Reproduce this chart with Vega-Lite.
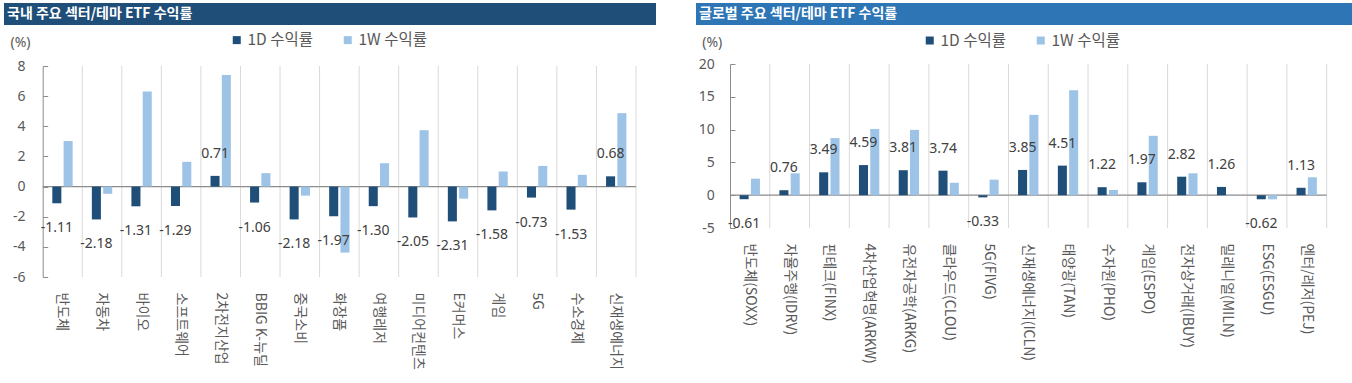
{
  "$schema": "https://vega.github.io/schema/vega-lite/v6.json",
  "padding": {"left": 4, "top": 3, "right": 0, "bottom": 0},
  "background": "white",
  "config": {
    "view": {"stroke": null},
    "font": "Noto Sans CJK KR",
    "axis": {"labelOverlap": false},
    "locale": {"number": {"decimal": ".", "thousands": ",", "grouping": [3], "currency": ["", ""], "minus": "-"}}
  },
  "datasets": {
    "kr": [
      {"cat": "반도체", "series": "1D 수익률", "value": -1.11}, {"cat": "반도체", "series": "1W 수익률", "value": 3.03},
      {"cat": "자동차", "series": "1D 수익률", "value": -2.18}, {"cat": "자동차", "series": "1W 수익률", "value": -0.48},
      {"cat": "바이오", "series": "1D 수익률", "value": -1.31}, {"cat": "바이오", "series": "1W 수익률", "value": 6.3},
      {"cat": "소프트웨어", "series": "1D 수익률", "value": -1.29}, {"cat": "소프트웨어", "series": "1W 수익률", "value": 1.64},
      {"cat": "2차전지산업", "series": "1D 수익률", "value": 0.71}, {"cat": "2차전지산업", "series": "1W 수익률", "value": 7.4},
      {"cat": "BBIG K-뉴딜", "series": "1D 수익률", "value": -1.06}, {"cat": "BBIG K-뉴딜", "series": "1W 수익률", "value": 0.89},
      {"cat": "중국소비", "series": "1D 수익률", "value": -2.18}, {"cat": "중국소비", "series": "1W 수익률", "value": -0.6},
      {"cat": "화장품", "series": "1D 수익률", "value": -1.97}, {"cat": "화장품", "series": "1W 수익률", "value": -4.38},
      {"cat": "여행레저", "series": "1D 수익률", "value": -1.3}, {"cat": "여행레저", "series": "1W 수익률", "value": 1.55},
      {"cat": "미디어컨텐츠", "series": "1D 수익률", "value": -2.05}, {"cat": "미디어컨텐츠", "series": "1W 수익률", "value": 3.74},
      {"cat": "E커머스", "series": "1D 수익률", "value": -2.31}, {"cat": "E커머스", "series": "1W 수익률", "value": -0.8},
      {"cat": "게임", "series": "1D 수익률", "value": -1.58}, {"cat": "게임", "series": "1W 수익률", "value": 1.0},
      {"cat": "5G", "series": "1D 수익률", "value": -0.73}, {"cat": "5G", "series": "1W 수익률", "value": 1.37},
      {"cat": "수소경제", "series": "1D 수익률", "value": -1.53}, {"cat": "수소경제", "series": "1W 수익률", "value": 0.78},
      {"cat": "신재생에너지", "series": "1D 수익률", "value": 0.68}, {"cat": "신재생에너지", "series": "1W 수익률", "value": 4.87}
    ],
    "gl": [
      {"cat": "반도체(SOXX)", "series": "1D 수익률", "value": -0.61}, {"cat": "반도체(SOXX)", "series": "1W 수익률", "value": 2.52},
      {"cat": "자율주행(IDRV)", "series": "1D 수익률", "value": 0.76}, {"cat": "자율주행(IDRV)", "series": "1W 수익률", "value": 3.34},
      {"cat": "핀테크(FINX)", "series": "1D 수익률", "value": 3.49}, {"cat": "핀테크(FINX)", "series": "1W 수익률", "value": 8.7},
      {"cat": "4차산업혁명(ARKW)", "series": "1D 수익률", "value": 4.59}, {"cat": "4차산업혁명(ARKW)", "series": "1W 수익률", "value": 10.1},
      {"cat": "유전자공학(ARKG)", "series": "1D 수익률", "value": 3.81}, {"cat": "유전자공학(ARKG)", "series": "1W 수익률", "value": 9.96},
      {"cat": "클라우드(CLOU)", "series": "1D 수익률", "value": 3.74}, {"cat": "클라우드(CLOU)", "series": "1W 수익률", "value": 1.9},
      {"cat": "5G(FIVG)", "series": "1D 수익률", "value": -0.33}, {"cat": "5G(FIVG)", "series": "1W 수익률", "value": 2.37},
      {"cat": "신재생에너지(ICLN)", "series": "1D 수익률", "value": 3.85}, {"cat": "신재생에너지(ICLN)", "series": "1W 수익률", "value": 12.25},
      {"cat": "태양광(TAN)", "series": "1D 수익률", "value": 4.51}, {"cat": "태양광(TAN)", "series": "1W 수익률", "value": 16.0},
      {"cat": "수자원(PHO)", "series": "1D 수익률", "value": 1.22}, {"cat": "수자원(PHO)", "series": "1W 수익률", "value": 0.8},
      {"cat": "게임(ESPO)", "series": "1D 수익률", "value": 1.97}, {"cat": "게임(ESPO)", "series": "1W 수익률", "value": 9.05},
      {"cat": "전자상거래(IBUY)", "series": "1D 수익률", "value": 2.82}, {"cat": "전자상거래(IBUY)", "series": "1W 수익률", "value": 3.34},
      {"cat": "밀레니얼(MILN)", "series": "1D 수익률", "value": 1.26}, {"cat": "밀레니얼(MILN)", "series": "1W 수익률", "value": 0.08},
      {"cat": "ESG(ESGU)", "series": "1D 수익률", "value": -0.62}, {"cat": "ESG(ESGU)", "series": "1W 수익률", "value": -0.63},
      {"cat": "엔터/레저(PEJ)", "series": "1D 수익률", "value": 1.13}, {"cat": "엔터/레저(PEJ)", "series": "1W 수익률", "value": 2.73}
    ]
  },
  "spacing": 40,
  "resolve": {"scale": {"color": "independent"}, "legend": {"color": "independent"}},
  "hconcat": [
    {
      "spacing": 7,
      "resolve": {"scale": {"color": "independent"}, "legend": {"color": "independent"}},
      "vconcat": [
        {
          "width": 652, "height": 22,
          "view": {"fill": "#1f4e79", "stroke": null},
          "data": {"values": [{"t": "국내 주요 섹터/테마 ETF 수익률"}]},
          "mark": {"type": "text", "align": "left", "baseline": "middle", "x": 3, "color": "white", "fontWeight": "bold", "fontSize": 14},
          "encoding": {"text": {"field": "t"}}
        },
        {
          "width": 652, "height": 211,
          "data": {"name": "kr"},
          "layer": [
            {
              "transform": [{"filter": "datum.series === '1D 수익률'"}],
              "mark": {"type": "rule", "color": "#d9d9d9", "strokeWidth": 1},
              "encoding": {
                "x": {"field": "cat", "type": "nominal", "sort": null, "bandPosition": 1,
                  "scale": {"range": [38.7, 632], "paddingInner": 0, "paddingOuter": 0},
                  "axis": {"title": null, "labelAngle": 90, "labelAlign": "left", "labelBaseline": "middle", "labelPadding": 15, "ticks": false, "domain": false, "labelFontSize": 14, "labelColor": "#595959", "labelLimit": 300}}
              }
            },
            {
              "transform": [{"filter": "datum.series === '1D 수익률'"}],
              "mark": {"type": "bar", "fillOpacity": 0, "stroke": "#8c8c8c", "strokeWidth": 1.3},
              "encoding": {
                "x": {"field": "cat", "type": "nominal", "sort": null},
                "y": {"datum": 0},
                "y2": {"datum": 0}
              }
            },
            {
              "mark": {"type": "bar"},
              "encoding": {
                "x": {"field": "cat", "type": "nominal", "sort": null},
                "xOffset": {"field": "series", "type": "nominal", "scale": {"domain": ["1D 수익률", "1W 수익률"], "paddingInner": 0.2, "paddingOuter": 0.85}},
                "y": {"field": "value", "type": "quantitative", "scale": {"domain": [-6, 8], "nice": false},
                  "axis": {"title": "(%)", "offset": -38.7, "titleAngle": 0, "titleAlign": "left", "titleBaseline": "middle", "titleX": -32.7, "titleY": -24, "titleFont": "Noto Sans", "titleFontSize": 14, "titleFontWeight": "normal", "titleColor": "#595959",
                    "values": [-6, -4, -2, 0, 2, 4, 6, 8], "tickCount": 8, "labelOverlap": false, "labelFlush": false, "labelFont": "Noto Sans", "labelFontSize": 14, "labelColor": "#595959", "labelPadding": 22.7, "tickSize": -5, "tickColor": "#8c8c8c", "domainColor": "#8c8c8c", "grid": false}},
                "color": {"field": "series", "type": "nominal",
                  "scale": {"domain": ["1D 수익률", "1W 수익률"], "range": ["#1f4e79", "#9dc3e6"]},
                  "legend": {"orient": "none", "legendX": 225, "legendY": -34, "direction": "horizontal", "title": null, "symbolType": "square", "symbolSize": 64, "symbolStrokeWidth": 0, "labelFontSize": 15.5, "labelColor": "#595959", "labelOffset": 3, "columnPadding": 26, "padding": 0}}
              }
            },
            {
              "transform": [{"filter": "datum.series === '1D 수익률' && datum.value < 0"}],
              "mark": {"type": "text", "dy": 25, "fontSize": 14, "color": "#404040", "font": "Noto Sans"},
              "encoding": {
                "x": {"field": "cat", "type": "nominal", "sort": null},
                "xOffset": {"field": "series", "type": "nominal"},
                "y": {"field": "value", "type": "quantitative"},
                "text": {"field": "value", "type": "quantitative", "format": ".2f"}
              }
            },
            {
              "transform": [{"filter": "datum.series === '1D 수익률' && datum.value >= 0"}],
              "mark": {"type": "text", "dy": -22, "fontSize": 14, "color": "#404040", "font": "Noto Sans"},
              "encoding": {
                "x": {"field": "cat", "type": "nominal", "sort": null},
                "xOffset": {"field": "series", "type": "nominal"},
                "y": {"field": "value", "type": "quantitative"},
                "text": {"field": "value", "type": "quantitative", "format": ".2f"}
              }
            }
          ]
        }
      ]
    },
    {
      "spacing": 7,
      "resolve": {"scale": {"color": "independent"}, "legend": {"color": "independent"}},
      "vconcat": [
        {
          "width": 656, "height": 22,
          "view": {"fill": "#2e75b6", "stroke": null},
          "data": {"values": [{"t": "글로벌 주요 섹터/테마 ETF 수익률"}]},
          "mark": {"type": "text", "align": "left", "baseline": "middle", "x": 3, "color": "white", "fontWeight": "bold", "fontSize": 14},
          "encoding": {"text": {"field": "t"}}
        },
        {
          "width": 656, "height": 164,
          "data": {"name": "gl"},
          "layer": [
            {
              "transform": [{"filter": "datum.series === '1D 수익률'"}],
              "mark": {"type": "rule", "color": "#d9d9d9", "strokeWidth": 1},
              "encoding": {
                "x": {"field": "cat", "type": "nominal", "sort": null, "bandPosition": 1,
                  "scale": {"range": [34, 630.7], "paddingInner": 0, "paddingOuter": 0},
                  "axis": {"title": null, "labelAngle": 90, "labelAlign": "left", "labelBaseline": "middle", "labelPadding": 15, "ticks": false, "domain": false, "labelFontSize": 14, "labelColor": "#595959", "labelLimit": 300}}
              }
            },
            {
              "transform": [{"filter": "datum.series === '1D 수익률'"}],
              "mark": {"type": "bar", "fillOpacity": 0, "stroke": "#8c8c8c", "strokeWidth": 1.3},
              "encoding": {
                "x": {"field": "cat", "type": "nominal", "sort": null},
                "y": {"datum": 0},
                "y2": {"datum": 0}
              }
            },
            {
              "mark": {"type": "bar"},
              "encoding": {
                "x": {"field": "cat", "type": "nominal", "sort": null},
                "xOffset": {"field": "series", "type": "nominal", "scale": {"domain": ["1D 수익률", "1W 수익률"], "paddingInner": 0.2, "paddingOuter": 0.85}},
                "y": {"field": "value", "type": "quantitative", "scale": {"domain": [-5, 20], "nice": false},
                  "axis": {"title": "(%)", "offset": -34, "titleAngle": 0, "titleAlign": "left", "titleBaseline": "middle", "titleX": -28.3, "titleY": -21.3, "titleFont": "Noto Sans", "titleFontSize": 14, "titleFontWeight": "normal", "titleColor": "#595959",
                    "values": [-5, 0, 5, 10, 15, 20], "tickCount": 6, "labelOverlap": false, "labelFlush": false, "labelFont": "Noto Sans", "labelFontSize": 14, "labelColor": "#595959", "labelPadding": 20.7, "tickSize": -5, "tickColor": "#8c8c8c", "domainColor": "#8c8c8c", "grid": false}},
                "color": {"field": "series", "type": "nominal",
                  "scale": {"domain": ["1D 수익률", "1W 수익률"], "range": ["#1f4e79", "#9dc3e6"]},
                  "legend": {"orient": "none", "legendX": 226, "legendY": -31.6, "direction": "horizontal", "title": null, "symbolType": "square", "symbolSize": 64, "symbolStrokeWidth": 0, "labelFontSize": 15.5, "labelColor": "#595959", "labelOffset": 3, "columnPadding": 26, "padding": 0}}
              }
            },
            {
              "transform": [{"filter": "datum.series === '1D 수익률' && datum.value < 0"}],
              "mark": {"type": "text", "dy": 25, "fontSize": 14, "color": "#404040", "font": "Noto Sans"},
              "encoding": {
                "x": {"field": "cat", "type": "nominal", "sort": null},
                "xOffset": {"field": "series", "type": "nominal"},
                "y": {"field": "value", "type": "quantitative"},
                "text": {"field": "value", "type": "quantitative", "format": ".2f"}
              }
            },
            {
              "transform": [{"filter": "datum.series === '1D 수익률' && datum.value >= 0"}],
              "mark": {"type": "text", "dy": -22, "fontSize": 14, "color": "#404040", "font": "Noto Sans"},
              "encoding": {
                "x": {"field": "cat", "type": "nominal", "sort": null},
                "xOffset": {"field": "series", "type": "nominal"},
                "y": {"field": "value", "type": "quantitative"},
                "text": {"field": "value", "type": "quantitative", "format": ".2f"}
              }
            }
          ]
        }
      ]
    }
  ]
}
